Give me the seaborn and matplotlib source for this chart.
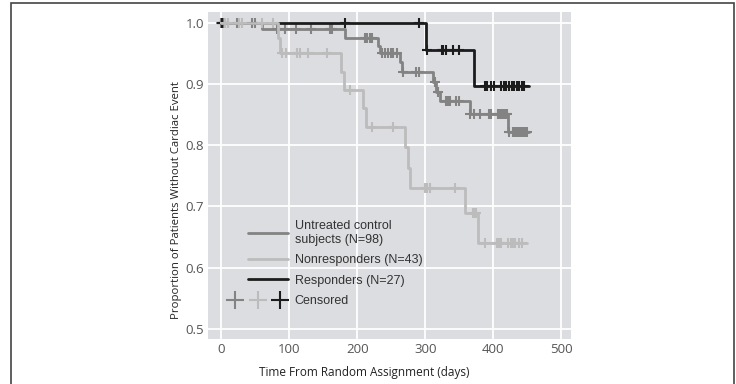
import numpy as np
import pandas as pd
import matplotlib
matplotlib.use("Agg")
import matplotlib.pyplot as plt
import seaborn as sns
from matplotlib.lines import Line2D
from matplotlib.legend_handler import HandlerBase
from matplotlib.patches import Rectangle

# ---- data ----
untreated_times = [0, 61, 182, 230, 233, 263, 266, 312, 316, 322, 365, 421]
untreated_surv = [1.0, 0.99, 0.976, 0.963, 0.951, 0.936, 0.92, 0.904, 0.888, 0.872, 0.852, 0.822]
untreated_end = 452
untreated_censor = [0, 3, 24, 46, 50, 82, 94, 110, 132, 160, 163,
                    212, 215, 219, 222, 236, 241, 246, 250, 253, 258,
                    268, 287, 291, 314, 319, 330, 334, 336, 345, 350,
                    366, 372, 380, 393, 396, 407, 410, 412, 415, 417, 420,
                    423, 429, 432, 434, 436, 439, 441, 444, 446, 449]

nonresp_times = [0, 84, 86, 177, 181, 209, 213, 270, 275, 278, 358, 377]
nonresp_surv = [1.0, 0.976, 0.951, 0.92, 0.891, 0.861, 0.83, 0.797, 0.763, 0.73, 0.69, 0.64]
nonresp_end = 449
nonresp_censor = [6, 11, 26, 31, 60, 77, 89, 95, 112, 116, 128, 155, 189, 222, 253,
                  300, 303, 307, 344, 370, 373, 375, 388, 405, 408, 411, 422, 426,
                  429, 432, 437, 442]

resp_times = [0, 301, 371]
resp_surv = [1.0, 0.957, 0.897]
resp_end = 452
resp_censor = [1, 2, 182, 291, 303, 324, 326, 330, 341, 349, 388, 391, 396, 401,
               411, 416, 419, 423, 427, 431, 434, 438, 442, 445]

group_labels = ["Untreated control\nsubjects (N=98)", "Nonresponders (N=43)", "Responders (N=27)"]
censor_label = "Censored"
x_ticks = [0, 100, 200, 300, 400, 500]
y_ticks = [0.5, 0.6, 0.7, 0.8, 0.9, 1.0]

colors = ["#838383", "#bcbcbc", "#1c1c1c"]
zorders = [2, 4, 3]

sns.set_style("darkgrid", {"axes.facecolor": "#dcdde0", "grid.color": "white"})

fig = plt.figure(figsize=(7.36, 3.84), dpi=100)
ax = fig.add_axes([208/736, 1-339/384, (571-208)/736, (339-12)/384])

groups = [
    (untreated_times, untreated_surv, untreated_end, untreated_censor),
    (nonresp_times, nonresp_surv, nonresp_end, nonresp_censor),
    (resp_times, resp_surv, resp_end, resp_censor),
]

for (t, s, end, cens), c, z in zip(groups, colors, zorders):
    df = pd.DataFrame({"time": list(t) + [end], "surv": list(s) + [s[-1]]})
    sns.lineplot(data=df, x="time", y="surv", drawstyle="steps-post", color=c,
                 linewidth=2.0, estimator=None, sort=False, ax=ax, zorder=z)
    idx = np.searchsorted(np.array(t), np.array(cens), side="right") - 1
    cdf = pd.DataFrame({"time": cens, "surv": np.array(s)[idx]})
    sns.scatterplot(data=cdf, x="time", y="surv", marker="+", s=58, color=c,
                    linewidth=1.5, ax=ax, zorder=z + 0.5, legend=False)

ax.set_xlim(-19, 514)
ax.set_ylim(0.483, 1.0185)
ax.set_xticks(x_ticks)
ax.set_yticks(y_ticks)
ax.set_xticklabels([str(v) for v in x_ticks])
ax.set_yticklabels([f"{v:.1f}" for v in y_ticks])
ax.grid(True, color="white", linewidth=1.3)
for sp in ax.spines.values():
    sp.set_visible(False)
ax.tick_params(axis="both", length=0, labelsize=9.5, labelcolor="#555555", pad=3)
for lab in ax.get_xticklabels() + ax.get_yticklabels():
    lab.set_family("Open Sans")

ax.set_xlabel("Time From Random Assignment (days)", fontsize=8.5, family="Open Sans",
              color="#222222")
ax.set_ylabel("Proportion of Patients Without Cardiac Event", fontsize=8.2,
              family="Open Sans", color="#222222")
ax.xaxis.set_label_coords(0.43, -0.083)
ax.yaxis.set_label_coords(-0.072, 0.424)


class CensorHandler(HandlerBase):
    """Three '+' markers spread as in the reference legend."""
    def create_artists(self, legend, orig_handle, xdescent, ydescent, width,
                       height, fontsize, trans):
        arts = []
        y = height / 2 - ydescent
        offs = [-0.32, 0.24, 0.80]
        for c, o in zip(orig_handle.colors, offs):
            ln = Line2D([o * width - xdescent], [y], color=c, marker="+",
                        markersize=12.5, markeredgewidth=1.5, linestyle="none")
            ln.set_transform(trans)
            arts.append(ln)
        return arts


class CensorKey:
    def __init__(self, colors):
        self.colors = colors


handles = [Line2D([], [], color=c, lw=2.0) for c in colors]
handles.append(CensorKey(colors))
leg = ax.legend(handles, group_labels + [censor_label], loc="upper left",
                bbox_to_anchor=(0.08, 0.397), frameon=False,
                handlelength=3.2, handletextpad=0.5, labelspacing=0.66,
                prop={"family": "Liberation Sans", "size": 9},
                handler_map={CensorKey: CensorHandler()})
for txt in leg.get_texts():
    txt.set_color("#333333")

fig.patches.append(Rectangle((11/736, -0.05), (734-11)/736, (1-3/384)+0.05,
                             transform=fig.transFigure, fill=False,
                             edgecolor="#444444", linewidth=1.2))

fig.savefig("out.png", dpi=100)
